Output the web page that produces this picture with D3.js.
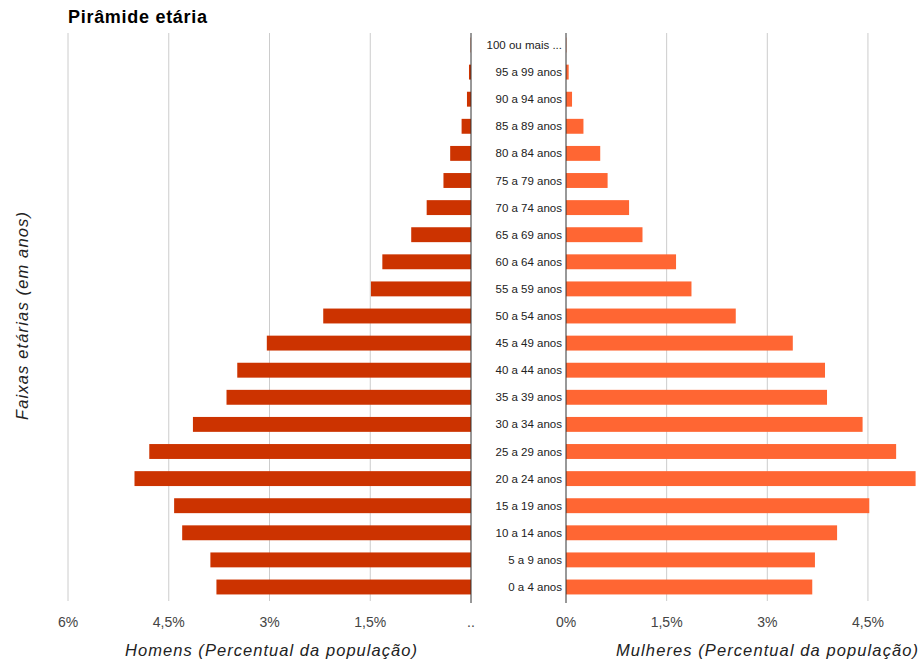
<!DOCTYPE html>
<html lang="pt">
<head>
<meta charset="UTF-8">
<title>Pirâmide etária</title>
<style>
  html, body { margin: 0; padding: 0; background: #fff; }
  svg { display: block; font-family: "Liberation Sans", Arial, sans-serif; }
  .grid line { stroke: #cccccc; stroke-width: 1px; }
  .tick-label { font-size: 14px; fill: #444; }
  .cat { font-size: 11.5px; fill: #222; }
  .axis-title { font-size: 16.5px; font-style: italic; fill: #222; }
</style>
</head>
<body>
<svg width="922" height="664"></svg>
<script src="https://d3js.org/d3.v7.min.js"></script>
<script>
// faixas etárias, de cima para baixo
const faixas = ["100 ou mais ...", "95 a 99 anos", "90 a 94 anos", "85 a 89 anos", "80 a 84 anos",
  "75 a 79 anos", "70 a 74 anos", "65 a 69 anos", "60 a 64 anos", "55 a 59 anos", "50 a 54 anos",
  "45 a 49 anos", "40 a 44 anos", "35 a 39 anos", "30 a 34 anos", "25 a 29 anos", "20 a 24 anos",
  "15 a 19 anos", "10 a 14 anos", "5 a 9 anos", "0 a 4 anos"];
const homens = [0.005, 0.03, 0.06, 0.14, 0.31, 0.41, 0.66, 0.89, 1.32, 1.49, 2.20,
  3.04, 3.48, 3.64, 4.14, 4.79, 5.01, 4.42, 4.30, 3.88, 3.79];
const mulheres = [0.005, 0.04, 0.09, 0.26, 0.51, 0.62, 0.94, 1.14, 1.64, 1.87, 2.53,
  3.38, 3.86, 3.89, 4.42, 4.92, 5.21, 4.52, 4.04, 3.71, 3.67];
const ticks = [0, 1.5, 3, 4.5, 6];

const svg = d3.select("svg");
const yTop = 33, yBottom = 601;

const xL = d3.scaleLinear().domain([0, 6]).range([471, 68]);
const xR = d3.scaleLinear().domain([0, 6]).range([566, 968.6]);
const y = d3.scaleBand().domain(faixas).range([31.45, 600.55])
  .paddingInner(0.45).paddingOuter(0.225);

const fmt = v => v === 0 ? "0%" : String(v).replace(".", ",") + "%";
const ticksR = ticks.filter(t => xR(t) < 922);

// gridlines
const grid = svg.append("g").attr("class", "grid");
grid.selectAll(".gl").data(ticks.filter(t => t > 0)).enter().append("line")
  .attr("x1", d => xL(d)).attr("x2", d => xL(d)).attr("y1", yTop).attr("y2", yBottom);
grid.selectAll(".gr").data(ticksR.filter(t => t > 0)).enter().append("line")
  .attr("x1", d => xR(d)).attr("x2", d => xR(d)).attr("y1", yTop).attr("y2", yBottom);

// barras
svg.append("g").selectAll("rect").data(homens).enter().append("rect")
  .attr("x", d => xL(d)).attr("width", d => xL(0) - xL(d))
  .attr("y", (d, i) => y(faixas[i])).attr("height", y.bandwidth())
  .attr("fill", "#cc3300");
svg.append("g").selectAll("rect").data(mulheres).enter().append("rect")
  .attr("x", xR(0)).attr("width", d => xR(d) - xR(0))
  .attr("y", (d, i) => y(faixas[i])).attr("height", y.bandwidth())
  .attr("fill", "#ff6633");

// eixos centrais
[xL(0), xR(0)].forEach(x => {
  svg.append("line").attr("x1", x).attr("x2", x).attr("y1", yTop).attr("y2", yBottom + 2)
    .attr("stroke", "#333").attr("stroke-width", 1);
});

// rótulos das faixas
svg.append("g").selectAll("text").data(faixas).enter().append("text")
  .attr("class", "cat")
  .attr("x", 562).attr("y", d => y(d) + y.bandwidth() / 2).attr("dy", "0.35em")
  .attr("text-anchor", "end").text(d => d);

// rótulos dos ticks
svg.append("g").selectAll("text").data(ticks).enter().append("text")
  .attr("class", "tick-label").attr("text-anchor", "middle")
  .attr("x", d => xL(d)).attr("y", 627)
  .text(d => d === 0 ? ".." : fmt(d));
svg.append("g").selectAll("text").data(ticksR).enter().append("text")
  .attr("class", "tick-label").attr("text-anchor", "middle")
  .attr("x", d => xR(d)).attr("y", 627)
  .text(d => fmt(d));

// títulos
svg.append("text").attr("x", 68).attr("y", 23)
  .style("font-size", "18px").style("font-weight", "bold").attr("fill", "#000")
  .attr("textLength", 139).attr("lengthAdjust", "spacing")
  .text("Pirâmide etária");
svg.append("text").attr("class", "axis-title").attr("text-anchor", "middle")
  .attr("x", 271).attr("y", 656).attr("textLength", 292).attr("lengthAdjust", "spacing")
  .text("Homens (Percentual da população)");
svg.append("text").attr("class", "axis-title").attr("text-anchor", "middle")
  .attr("x", 767).attr("y", 656).attr("textLength", 302).attr("lengthAdjust", "spacing")
  .text("Mulheres (Percentual da população)");
svg.append("text").attr("class", "axis-title").attr("text-anchor", "middle")
  .attr("transform", "translate(28,316) rotate(-90)")
  .attr("textLength", 208).attr("lengthAdjust", "spacing")
  .text("Faixas etárias (em anos)");
</script>
</body>
</html>
